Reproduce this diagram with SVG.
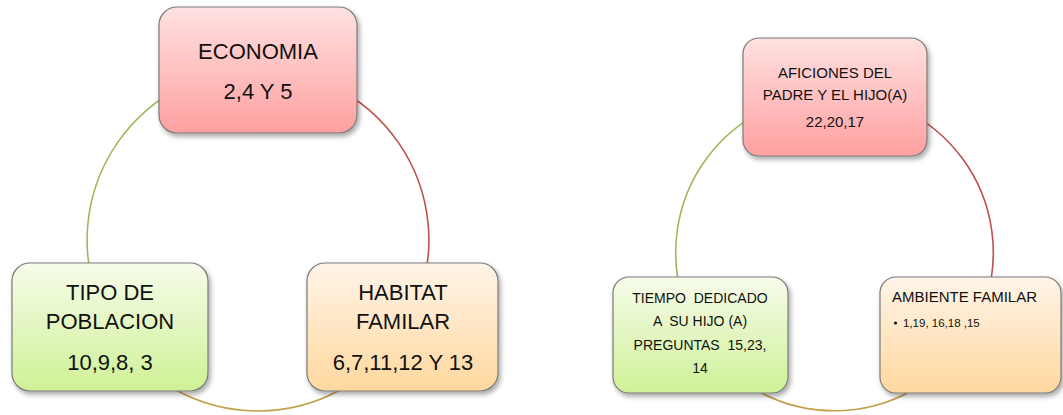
<svg xmlns="http://www.w3.org/2000/svg" width="1063" height="415" viewBox="0 0 1063 415">
<defs>
<linearGradient id="gRed" x1="0" y1="0" x2="0" y2="1"><stop offset="0" stop-color="#ffe1e1"/><stop offset="1" stop-color="#ffa0a0"/></linearGradient>
<linearGradient id="gGreen" x1="0" y1="0" x2="0" y2="1"><stop offset="0" stop-color="#f6fcea"/><stop offset="1" stop-color="#cff196"/></linearGradient>
<linearGradient id="gOrange" x1="0" y1="0" x2="0" y2="1"><stop offset="0" stop-color="#fff4e8"/><stop offset="1" stop-color="#ffd89e"/></linearGradient>
<filter id="sh" x="-10%" y="-10%" width="125%" height="130%"><feDropShadow dx="2" dy="3" stdDeviation="2.5" flood-color="#000" flood-opacity="0.35"/></filter>
<style>
.box{stroke:#7a7a7a;stroke-width:1.2;filter:url(#sh)}
.t{font-family:"Liberation Sans",Arial,sans-serif;fill:#111;text-anchor:middle}
.big{font-size:22px}
.mid{font-size:15px}
.sm{font-size:14px}
.arc{fill:none;stroke-width:1.6}
.green{stroke:#9bbb59}
.red{stroke:#c0504d}
.gold{stroke:#c49f4b}
</style>
</defs>
<g id="connectors">
<path class="arc green" d="M258,69 A171,171 0 0 0 98,300"/>
<path class="arc red" d="M258,69 A171,171 0 0 1 418,300"/>
<path class="arc gold" d="M176,390 A171,171 0 0 0 340,390"/>
<path class="arc green" d="M834.5,94 A158.5,158.5 0 0 0 683,300"/>
<path class="arc red" d="M834.5,94 A158.5,158.5 0 0 1 986,300"/>
<path class="arc gold" d="M756,390 A158.5,158.5 0 0 0 913,390"/>
</g>
<g id="economia">
<rect class="box" x="159" y="7" width="198" height="126" rx="18" fill="url(#gRed)"/>
<text class="t big" x="258" y="59">ECONOMIA</text>
<text class="t big" x="258" y="99">2,4 Y 5</text>
</g>
<g id="tipo">
<rect class="box" x="12" y="263" width="196" height="128" rx="18" fill="url(#gGreen)"/>
<text class="t big" x="110" y="300">TIPO DE</text>
<text class="t big" x="110" y="329">POBLACION</text>
<text class="t big" x="110" y="370">10,9,8, 3</text>
</g>
<g id="habitat">
<rect class="box" x="307" y="263" width="191" height="128" rx="18" fill="url(#gOrange)"/>
<text class="t big" x="403" y="300">HABITAT</text>
<text class="t big" x="403" y="329">FAMILAR</text>
<text class="t big" x="403" y="370">6,7,11,12 Y 13</text>
</g>
<g id="aficiones">
<rect class="box" x="743" y="38" width="184" height="118" rx="16" fill="url(#gRed)"/>
<text class="t mid" x="835" y="78">AFICIONES DEL</text>
<text class="t mid" x="835" y="100">PADRE Y EL HIJO(A)</text>
<text class="t mid" x="835" y="127">22,20,17</text>
</g>
<g id="tiempo">
<rect class="box" x="613" y="277" width="175" height="116" rx="16" fill="url(#gGreen)"/>
<text class="t sm" x="700" y="303" xml:space="preserve">TIEMPO  DEDICADO</text>
<text class="t sm" x="700" y="326" xml:space="preserve">A  SU HIJO (A)</text>
<text class="t sm" x="700" y="350" xml:space="preserve">PREGUNTAS  15,23,</text>
<text class="t sm" x="700" y="373">14</text>
</g>
<g id="ambiente">
<rect class="box" x="880" y="277" width="181" height="116" rx="16" fill="url(#gOrange)"/>
<text class="t mid" x="892" y="302" text-anchor="start" style="text-anchor:start">AMBIENTE FAMILAR</text>
<circle cx="895.5" cy="323" r="1.6" fill="#111"/>
<text class="t" x="903" y="327" style="text-anchor:start;font-size:11.5px">1,19, 16,18 ,15</text>
</g>
</svg>
